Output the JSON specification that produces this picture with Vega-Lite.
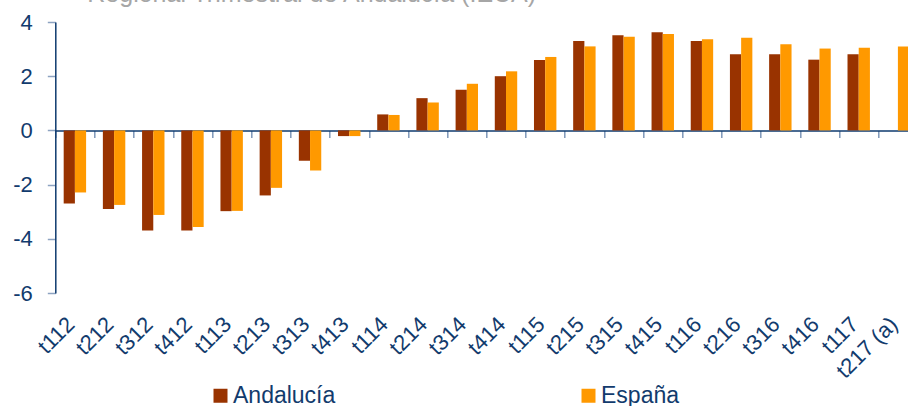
{
  "$schema": "https://vega.github.io/schema/vega-lite/v6.json",
  "autosize": {"type": "none"},
  "width": 852.7,
  "height": 271,
  "padding": {"left": 55.3, "top": 22, "right": 0, "bottom": 113},
  "background": "white",
  "title": {
    "text": "Regional Trimestral de Andalucía (IECA)",
    "frame": "group",
    "anchor": "start",
    "dx": 32,
    "offset": -16,
    "baseline": "alphabetic",
    "fontSize": 25,
    "fontWeight": "normal",
    "color": "#A6A6A6",
    "font": "Liberation Sans"
  },
  "config": {"view": {"stroke": null}, "font": "Liberation Sans"},
  "data": {
    "values": [
      {"periodo": "t112", "serie": "Andalucía", "valor": -2.7},
      {"periodo": "t112", "serie": "España", "valor": -2.29},
      {"periodo": "t212", "serie": "Andalucía", "valor": -2.9},
      {"periodo": "t212", "serie": "España", "valor": -2.75},
      {"periodo": "t312", "serie": "Andalucía", "valor": -3.69},
      {"periodo": "t312", "serie": "España", "valor": -3.12},
      {"periodo": "t412", "serie": "Andalucía", "valor": -3.69},
      {"periodo": "t412", "serie": "España", "valor": -3.56},
      {"periodo": "t113", "serie": "Andalucía", "valor": -2.98},
      {"periodo": "t113", "serie": "España", "valor": -2.97},
      {"periodo": "t213", "serie": "Andalucía", "valor": -2.4},
      {"periodo": "t213", "serie": "España", "valor": -2.12},
      {"periodo": "t313", "serie": "Andalucía", "valor": -1.12},
      {"periodo": "t313", "serie": "España", "valor": -1.48},
      {"periodo": "t413", "serie": "Andalucía", "valor": -0.21},
      {"periodo": "t413", "serie": "España", "valor": -0.21},
      {"periodo": "t114", "serie": "Andalucía", "valor": 0.59},
      {"periodo": "t114", "serie": "España", "valor": 0.57},
      {"periodo": "t214", "serie": "Andalucía", "valor": 1.19},
      {"periodo": "t214", "serie": "España", "valor": 1.03},
      {"periodo": "t314", "serie": "Andalucía", "valor": 1.5},
      {"periodo": "t314", "serie": "España", "valor": 1.72},
      {"periodo": "t414", "serie": "Andalucía", "valor": 2.0},
      {"periodo": "t414", "serie": "España", "valor": 2.18},
      {"periodo": "t115", "serie": "Andalucía", "valor": 2.6},
      {"periodo": "t115", "serie": "España", "valor": 2.71},
      {"periodo": "t215", "serie": "Andalucía", "valor": 3.3},
      {"periodo": "t215", "serie": "España", "valor": 3.1},
      {"periodo": "t315", "serie": "Andalucía", "valor": 3.51},
      {"periodo": "t315", "serie": "España", "valor": 3.46},
      {"periodo": "t415", "serie": "Andalucía", "valor": 3.62},
      {"periodo": "t415", "serie": "España", "valor": 3.56},
      {"periodo": "t116", "serie": "Andalucía", "valor": 3.3},
      {"periodo": "t116", "serie": "España", "valor": 3.36},
      {"periodo": "t216", "serie": "Andalucía", "valor": 2.81},
      {"periodo": "t216", "serie": "España", "valor": 3.42},
      {"periodo": "t316", "serie": "Andalucía", "valor": 2.81},
      {"periodo": "t316", "serie": "España", "valor": 3.18},
      {"periodo": "t416", "serie": "Andalucía", "valor": 2.61},
      {"periodo": "t416", "serie": "España", "valor": 3.02},
      {"periodo": "t117", "serie": "Andalucía", "valor": 2.81},
      {"periodo": "t117", "serie": "España", "valor": 3.05},
      {"periodo": "t217 (a)", "serie": "España", "valor": 3.1}
    ]
  },
  "mark": {"type": "bar"},
  "encoding": {
    "x": {
      "field": "periodo",
      "type": "nominal",
      "sort": null,
      "scale": {"range": [0, 862.2], "paddingInner": 0.428, "paddingOuter": 0.214},
      "axis": {
        "title": null,
        "orient": "bottom",
        "offset": -162.6,
        "domainColor": "#0E3A6E",
        "domainWidth": 1.5,
        "tickColor": "#7D97B8",
        "tickSize": 7,
        "tickWidth": 1.5,
        "tickOffset": -19.6,
        "labelAngle": -45,
        "labelAlign": "right",
        "labelBaseline": "top",
        "labelPadding": 176,
        "labelOffset": 8,
        "labelFontSize": 22,
        "labelColor": "#123B6D",
        "labelFont": "Liberation Sans",
        "labelOverlap": false,
        "labelFlush": false
      }
    },
    "xOffset": {
      "field": "serie",
      "type": "nominal",
      "sort": ["Andalucía", "España"],
      "scale": {"paddingInner": 0, "paddingOuter": 0}
    },
    "y": {
      "field": "valor",
      "type": "quantitative",
      "scale": {"domain": [-6, 4], "nice": false, "zero": false},
      "axis": {
        "title": null,
        "values": [-6, -4, -2, 0, 2, 4],
        "labelExpr": "replace(datum.label, '−', '-')",
        "grid": false,
        "domainColor": "#0E3A6E",
        "domainWidth": 1.5,
        "tickColor": "#8DA3C1",
        "tickSize": 8,
        "tickWidth": 1.5,
        "labelPadding": 15,
        "labelFontSize": 22,
        "labelColor": "#123B6D",
        "labelFont": "Liberation Sans",
        "labelFlush": false
      }
    },
    "color": {
      "field": "serie",
      "type": "nominal",
      "scale": {"domain": ["Andalucía", "España"], "range": ["#993300", "#FF9900"]},
      "legend": {
        "orient": "none",
        "legendX": 153.7,
        "legendY": 362,
        "direction": "horizontal",
        "title": null,
        "symbolType": "square",
        "symbolSize": 196,
        "symbolStrokeWidth": 0,
        "symbolOpacity": 1,
        "labelFontSize": 23,
        "labelColor": "#123B6D",
        "labelFont": "Liberation Sans",
        "labelOffset": 1,
        "labelLimit": 300,
        "columnPadding": 241,
        "padding": 0
      }
    }
  }
}
